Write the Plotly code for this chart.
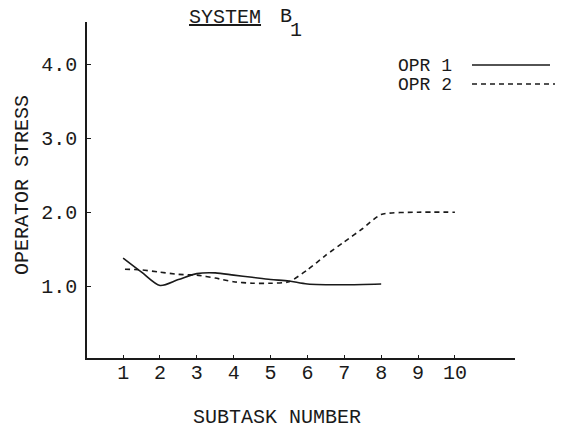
import plotly.graph_objects as go

# ---- data ----
opr1_x = [1, 1.5, 2, 2.5, 3, 3.5, 4, 4.5, 5, 5.5, 6, 7, 8]
opr1_y = [1.38, 1.19, 1.01, 1.09, 1.17, 1.18, 1.15, 1.12, 1.09, 1.07, 1.03, 1.02, 1.03]

opr2_x = [1.05, 1.5, 2, 2.5, 3, 3.5, 4, 4.5, 5, 5.5, 6, 6.5, 7, 7.5, 8, 9, 10]
opr2_y = [1.23, 1.22, 1.19, 1.16, 1.15, 1.11, 1.06, 1.04, 1.04, 1.06, 1.22, 1.42, 1.60, 1.78, 1.97, 2.0, 2.0]

x_ticks = [1, 2, 3, 4, 5, 6, 7, 8, 9, 10]
y_ticks = [1.0, 2.0, 3.0, 4.0]
y_tick_labels = ["1.0", "2.0", "3.0", "4.0"]

FONT = "Liberation Mono"
INK = "#1a1a1a"

W, H = 561, 428
L, R, T, B = 87, 46, 22, 70
PW, PH = W - L - R, H - T - B


def px(x):
    return (x - L) / PW


def py(y):
    return (H - B - y) / PH


fig = go.Figure()
fig.add_trace(go.Scatter(x=opr1_x, y=opr1_y, mode="lines", name="OPR 1",
                         line=dict(color=INK, width=1.6, shape="spline", smoothing=0.8),
                         showlegend=False))
fig.add_trace(go.Scatter(x=opr2_x, y=opr2_y, mode="lines", name="OPR 2",
                         line=dict(color=INK, width=1.6, shape="spline", smoothing=0.6,
                                   dash="5px,4px"),
                         showlegend=False))

fig.update_layout(
    width=W, height=H,
    margin=dict(l=L, r=R, t=T, b=B),
    paper_bgcolor="white", plot_bgcolor="white",
    font=dict(family=FONT, size=20, color=INK),
    xaxis=dict(range=[0.02, 11.63], tickvals=x_ticks, showgrid=False, zeroline=False,
               showline=True, linecolor=INK, linewidth=1.5,
               ticks="inside", ticklen=3, tickcolor=INK,
               ticklabelstandoff=-5,
               tickfont=dict(family=FONT, size=20, color=INK)),
    yaxis=dict(range=[0.03, 4.57], tickvals=y_ticks, ticktext=y_tick_labels,
               showgrid=False, zeroline=False,
               showline=True, linecolor=INK, linewidth=1.5,
               ticks="inside", ticklen=4, tickcolor=INK,
               ticklabelstandoff=4,
               tickfont=dict(family=FONT, size=20, color=INK)),
)

ann = [
    dict(text="<u>SYSTEM</u>", x=px(225), y=py(17), size=20),
    dict(text="B", x=px(286), y=py(16), size=20),
    dict(text="1", x=px(296), y=py(30), size=20),
    dict(text="OPR 1", x=px(425), y=py(66), size=18),
    dict(text="OPR 2", x=px(425), y=py(85), size=18),
    dict(text="SUBTASK NUMBER", x=px(277), y=py(417), size=20),
    dict(text="OPERATOR STRESS", x=px(22), y=py(185), size=20, textangle=-90),
]
for a in ann:
    size = a.pop("size")
    fig.add_annotation(xref="paper", yref="paper", showarrow=False,
                       xanchor="center", yanchor="middle", borderpad=0,
                       font=dict(family=FONT, size=size, color=INK), **a)

fig.add_shape(type="line", xref="paper", yref="paper",
              x0=px(472), x1=px(550), y0=py(65), y1=py(65),
              line=dict(color=INK, width=1.6))
fig.add_shape(type="line", xref="paper", yref="paper",
              x0=px(472), x1=px(555), y0=py(84), y1=py(84),
              line=dict(color=INK, width=1.6, dash="5px,4px"))

fig.write_html("out.html",
               config={"displayModeBar": False},
               post_script="document.body.style.margin='0';document.body.style.overflow='hidden';")
